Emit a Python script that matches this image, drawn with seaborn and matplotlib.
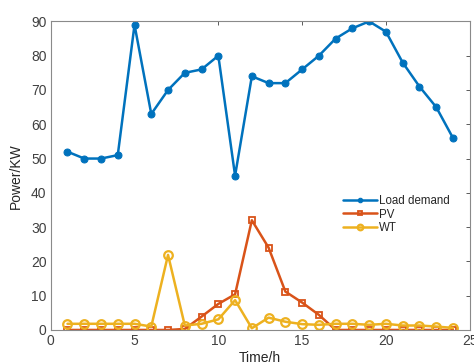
import matplotlib
matplotlib.use("Agg")
import matplotlib.pyplot as plt
import seaborn as sns
import pandas as pd

hours = list(range(1, 25))
load_demand = [52, 50, 50, 51, 89, 63, 70, 75, 76, 80, 45, 74,
               72, 72, 76, 80, 85, 88, 90, 87, 78, 71, 65, 56]
pv = [0, 0, 0, 0, 0, 0, 0, 0.3, 3.9, 7.6, 10.4, 32,
      24, 11.2, 8, 4.4, 0, 0, 0, 0, 0, 0, 0, 0]
wt = [1.8, 1.8, 1.8, 1.8, 1.8, 1.0, 21.9, 1.3, 1.8, 3.1, 8.7, 0.5,
      3.6, 2.4, 1.7, 1.5, 1.8, 1.8, 1.5, 1.8, 1.3, 1.3, 1.0, 0.6]

series_names = ["Load demand", "PV", "WT"]
colors = ["#0072BD", "#D95319", "#EDB120"]
x_ticks = [0, 5, 10, 15, 20, 25]
y_ticks = list(range(0, 91, 10))

df = pd.DataFrame({"hour": hours, "Load demand": load_demand, "PV": pv, "WT": wt})
long = df.melt(id_vars="hour", var_name="series", value_name="power")

sns.set_style("white")
plt.rcParams["font.family"] = ["Liberation Sans", "DejaVu Sans"]

fig = plt.figure(figsize=(4.74, 3.63), dpi=100)
ax = fig.add_axes([0.107, 0.091, 0.884, 0.850])

styles = {
    "Load demand": dict(marker="o", markersize=5, markerfacecolor=colors[0]),
    "PV": dict(marker="s", markersize=4.5, markerfacecolor="none", markeredgewidth=1.3),
    "WT": dict(marker="o", markersize=6.2, markerfacecolor="none", markeredgewidth=1.6),
}
for name, col in zip(series_names, colors):
    sub = long[long["series"] == name]
    sns.lineplot(data=sub, x="hour", y="power", ax=ax, color=col, linewidth=1.8,
                 markeredgecolor=col, label=name, **styles[name])

ax.set_xlim(0, 25)
ax.set_ylim(0, 90)
ax.set_xticks(x_ticks)
ax.set_yticks(y_ticks)
ax.set_xlabel("Time/h", fontsize=10, color="#262626", labelpad=2)
ax.set_ylabel("Power/KW", fontsize=10, color="#262626", labelpad=6)
ax.tick_params(direction="in", length=3, width=0.6, colors="#404040",
               labelsize=10, labelcolor="#404040", top=True, right=True,
               labeltop=False, labelright=False, pad=3)
for sp in ax.spines.values():
    sp.set_color("#8a8a8a")
    sp.set_linewidth(0.8)

leg = ax.legend(loc="upper left", bbox_to_anchor=(0.698, 0.437),
                frameon=False, fontsize=8.3, handlelength=2.9, handletextpad=0.2,
                labelspacing=0.12, markerscale=0.65, borderaxespad=0,
                borderpad=0)
for t in leg.get_texts():
    t.set_color("#262626")

fig.savefig("out.png", dpi=100)
